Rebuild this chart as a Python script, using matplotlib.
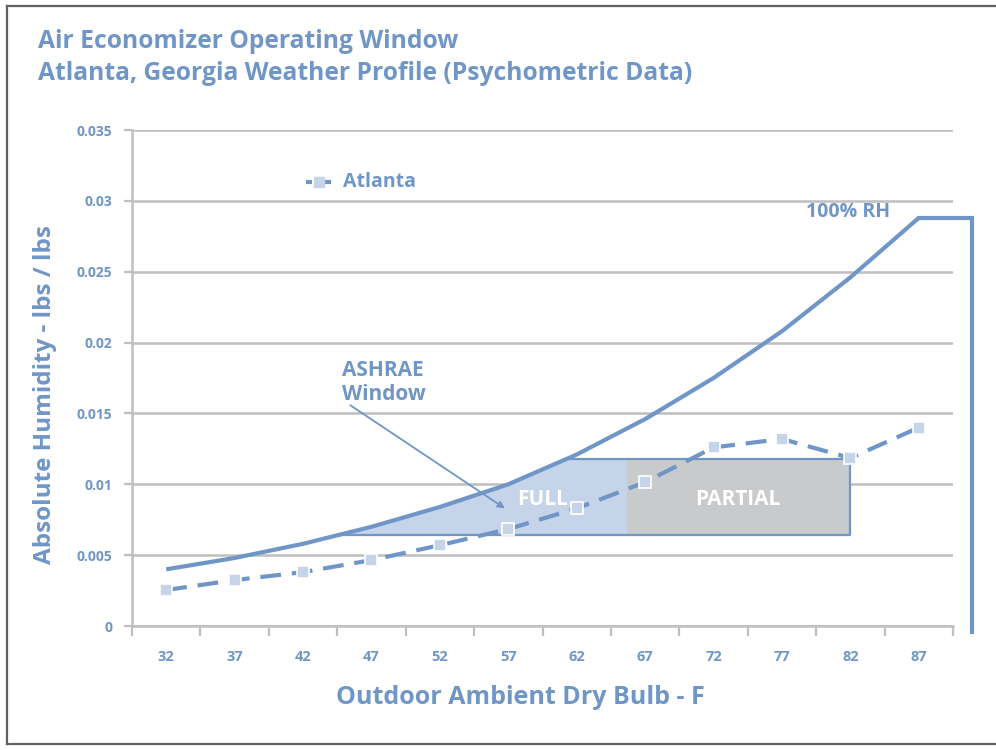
import numpy as np
import matplotlib
matplotlib.use('Agg')
import matplotlib.pyplot as plt

plt.rcParams['font.family'] = ['Open Sans', 'DejaVu Sans']

# data
temps = [32, 37, 42, 47, 52, 57, 62, 67, 72, 77, 82, 87]
atlanta = [0.00254, 0.00324, 0.0038, 0.00465, 0.0057, 0.00684,
           0.0083, 0.01015, 0.0126, 0.0132, 0.01185, 0.0140]
rh100 = [0.0040, 0.0048, 0.0058, 0.0070, 0.0084, 0.0100,
         0.0121, 0.0146, 0.0175, 0.0208, 0.0246, 0.0288]
yticks = [0, 0.005, 0.01, 0.015, 0.02, 0.025, 0.03, 0.035]
ytick_labels = ['0', '0.005', '0.01', '0.015', '0.02', '0.025', '0.03', '0.035']

# ashrae window (x in category index units)
win_low = 0.0064
win_high = 0.01175
partial_start = 6.74
win_end = 10.0

blue = '#6f96c7'
light_blue = '#c5d4e8'
grey_fill = '#c9cacc'
grid_grey = '#bfbfbf'

idx = np.arange(len(temps))

fig = plt.figure(figsize=(9.96, 7.5), dpi=100)
ax = fig.add_axes([132/996, 1-626/750, 821/996, 496/750])

ax.set_xlim(-0.5, len(temps) - 0.5)
ax.set_ylim(0, 0.035)

# window shapes
x0 = np.interp(win_low, rh100, idx)
x1 = np.interp(win_high, rh100, idx)
between = [(i, v) for i, v in zip(idx, rh100) if x0 < i < x1]
poly_x = [x0, partial_start, partial_start, x1] + [p[0] for p in between[::-1]]
poly_y = [win_low, win_low, win_high, win_high] + [p[1] for p in between[::-1]]
ax.fill(poly_x, poly_y, color=light_blue, lw=0, zorder=2)
ax.fill([partial_start, win_end, win_end, partial_start],
        [win_low, win_low, win_high, win_high], color=grey_fill, lw=0, zorder=2)
ax.plot([x0, win_end, win_end, x1], [win_low, win_low, win_high, win_high],
        color=blue, lw=1.6, zorder=3)

# 100% RH curve + the odd cap on the right
ax.plot(idx, rh100, color=blue, lw=3, zorder=4, solid_capstyle='butt')
cap_x = 11.78
ax.plot([idx[-1], cap_x, cap_x], [rh100[-1], rh100[-1], -0.00042],
        color=blue, lw=3, zorder=4, clip_on=False, solid_joinstyle='miter')

# atlanta series
ax.plot(idx, atlanta, color=blue, lw=3, dashes=(5, 2.6), zorder=5,
        marker='s', markersize=8, markerfacecolor=light_blue,
        markeredgecolor='white', markeredgewidth=1.2)

# legend: short dash, square, short dash
leg_y = 1 - 182/750
seg = dict(color=blue, lw=3, transform=fig.transFigure, solid_capstyle='butt')
fig.add_artist(plt.Line2D([306/996, 312/996], [leg_y, leg_y], **seg))
fig.add_artist(plt.Line2D([325/996, 331/996], [leg_y, leg_y], **seg))
fig.add_artist(plt.Line2D([318.5/996], [leg_y], marker='s', markersize=7.5,
                          color=light_blue, transform=fig.transFigure))
fig.text(343/996, leg_y, 'Atlanta', color=blue, fontsize=14, fontweight='bold',
         va='center', ha='left')

# axes styling
ax.set_yticks(yticks)
ax.set_yticklabels(ytick_labels)
ax.set_xticks(np.arange(-0.5, len(temps)), minor=False)
ax.set_xticklabels([])
ax.set_xticks(idx, minor=True)
ax.set_xticklabels([str(t) for t in temps], minor=True)
ax.tick_params(axis='x', which='major', length=7, width=1.6, color=grid_grey,
               direction='out')
ax.tick_params(axis='x', which='minor', length=0, pad=17, labelsize=10.5,
               labelcolor=blue)
ax.tick_params(axis='y', length=6, width=1.6, color=grid_grey, pad=8,
               labelsize=10, labelcolor=blue)
for lab in ax.get_xticklabels(minor=True) + ax.get_yticklabels():
    lab.set_fontweight('bold')
ax.yaxis.grid(True, color=grid_grey, lw=1.8, zorder=0)
ax.set_axisbelow(True)
for s in ['top', 'right']:
    ax.spines[s].set_visible(False)
for s in ['left', 'bottom']:
    ax.spines[s].set_color(grid_grey)
    ax.spines[s].set_linewidth(1.8)

# annotations
ax.text(10.58, 0.0292, '100% RH', color=blue, fontsize=14, fontweight='bold',
        ha='right', va='center')
ax.text(2.57, 0.0172, 'ASHRAE\nWindow', color=blue, fontsize=15,
        fontweight='bold', ha='left', va='center', linespacing=1.2)
ax.annotate('', xy=(4.95, 0.0083), xytext=(2.69, 0.01558),
            arrowprops=dict(arrowstyle='-|>', color=blue, lw=1.3,
                            mutation_scale=10, shrinkA=0, shrinkB=0))
ax.text(5.5, 0.0089, 'FULL', color='white', fontsize=15, fontweight='bold',
        ha='center', va='center', zorder=6)
ax.text(8.35, 0.0089, 'PARTIAL', color='white', fontsize=15, fontweight='bold',
        ha='center', va='center', zorder=6)

# titles and axis labels
fig.text(38/996, 1-41/750, 'Air Economizer Operating Window', color=blue,
         fontsize=17.7, fontweight='bold', ha='left', va='center')
fig.text(38/996, 1-74/750, 'Atlanta, Georgia Weather Profile (Psychometric Data)',
         color=blue, fontsize=17.7, fontweight='bold', ha='left', va='center')
fig.text(45/996, 1-395/750, 'Absolute Humidity - lbs / lbs', color=blue,
         fontsize=17.5, fontweight='bold', rotation=90, ha='center', va='center')
fig.text(520/996, 1-697/750, 'Outdoor Ambient Dry Bulb - F', color=blue,
         fontsize=18, fontweight='bold', ha='center', va='center')

# outer frame (no right side visible)
frame = dict(color='#606060', lw=1.6, transform=fig.transFigure)
fig.add_artist(plt.Line2D([7/996, 1.0], [1-6/750, 1-6/750], **frame))
fig.add_artist(plt.Line2D([7/996, 7/996], [1-6/750, 1-744/750], **frame))
fig.add_artist(plt.Line2D([7/996, 1.0], [1-744/750, 1-744/750], **frame))

fig.savefig('out.png', dpi=100)
